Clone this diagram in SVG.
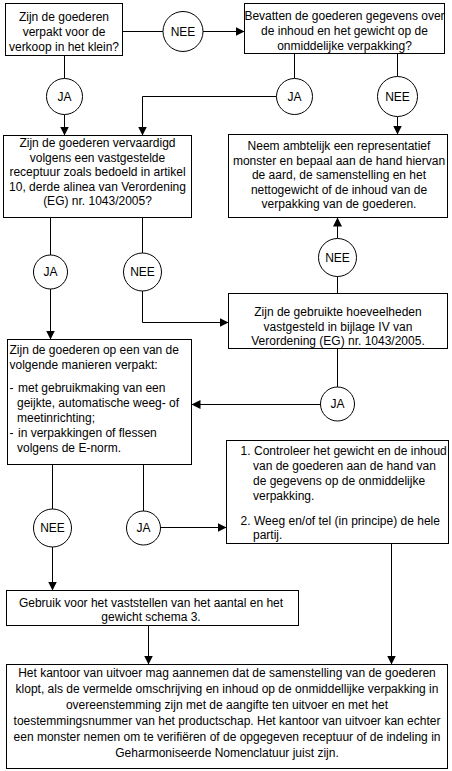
<svg xmlns="http://www.w3.org/2000/svg" width="452" height="771" viewBox="0 0 452 771">
<defs>
<style>
.box{fill:#fff;stroke:#000;stroke-width:1}
.c{fill:#fff;stroke:#000;stroke-width:1}
.t{font-family:"Liberation Sans",Arial,sans-serif;font-size:12px;fill:#000}
.m{text-anchor:middle}
.ln{fill:none;stroke:#000;stroke-width:1}
.ar{marker-end:url(#ah)}
</style>
<marker id="ah" viewBox="0 0 10 10" refX="10" refY="5" markerWidth="9" markerHeight="9" markerUnits="userSpaceOnUse" orient="auto">
<path d="M0,0 L10,5 L0,10 z" fill="#000"/>
</marker>
</defs>
<rect width="452" height="771" fill="#fff"/>
<g id="connectors">
<path class="ln" d="M122.5,31.5 H163"/>
<path class="ln ar" d="M203,31.5 H244.5"/>
<path class="ln" d="M64.5,55.5 V78.5"/>
<path class="ln ar" d="M64.5,114.5 V135.5"/>
<path class="ln" d="M294.5,53.5 V78.5"/>
<path class="ln ar" d="M276.5,96.5 H142.5 V135.5"/>
<path class="ln" d="M397.5,53.5 V76.5"/>
<path class="ln ar" d="M397.5,116.5 V134.5"/>
<path class="ln" d="M50.5,217.5 V255"/>
<path class="ln ar" d="M50.5,289 V339.5"/>
<path class="ln" d="M142.5,217.5 V253"/>
<path class="ln ar" d="M142.5,291 V322.5 H228.5"/>
<path class="ln" d="M337.5,293.5 V276.5"/>
<path class="ln ar" d="M337.5,238.5 V217.5"/>
<path class="ln" d="M337.5,348.5 V387"/>
<path class="ln ar" d="M320.5,404.5 H191.5"/>
<path class="ln" d="M52.5,464.5 V509"/>
<path class="ln ar" d="M52.5,547 V590.5"/>
<path class="ln" d="M143.5,464.5 V511"/>
<path class="ln ar" d="M160.5,527.5 H226.5"/>
<path class="ln ar" d="M148.5,625.5 V664.5"/>
<path class="ln ar" d="M391.5,543.5 V664.5"/>
</g>
<g id="box1">
<rect class="box" x="5.5" y="3.5" width="117" height="52"/>
<text class="t m" x="64" y="21">Zijn de goederen</text>
<text class="t m" x="64" y="36">verpakt voor de</text>
<text class="t m" x="64" y="51">verkoop in het klein?</text>
</g>
<g id="nee1">
<circle class="c" cx="183" cy="31.5" r="20"/>
<text class="t m" x="183" y="35.5">NEE</text>
</g>
<g id="box2">
<rect class="box" x="244.5" y="3.5" width="200" height="50"/>
<text class="t m" x="344.5" y="20">Bevatten de goederen gegevens over</text>
<text class="t m" x="344.5" y="35">de inhoud en het gewicht op de</text>
<text class="t m" x="344.5" y="49.5">onmiddelijke verpakking?</text>
</g>
<g id="ja1">
<circle class="c" cx="64.5" cy="96.5" r="18"/>
<text class="t m" x="64.5" y="100.5">JA</text>
</g>
<g id="ja2">
<circle class="c" cx="294.5" cy="96.5" r="18"/>
<text class="t m" x="294.5" y="100.5">JA</text>
</g>
<g id="nee2">
<circle class="c" cx="397.5" cy="96.5" r="20"/>
<text class="t m" x="397.5" y="100.5">NEE</text>
</g>
<g id="box3">
<rect class="box" x="3.5" y="135.5" width="188" height="82"/>
<text class="t m" x="97.5" y="147">Zijn de goederen vervaardigd</text>
<text class="t m" x="97.5" y="161.5">volgens een vastgestelde</text>
<text class="t m" x="97.5" y="176">receptuur zoals bedoeld in artikel</text>
<text class="t m" x="97.5" y="190.5">10, derde alinea van Verordening</text>
<text class="t m" x="97.5" y="205">(EG) nr. 1043/2005?</text>
</g>
<g id="box4">
<rect class="box" x="228.5" y="134.5" width="219" height="83"/>
<text class="t m" x="339" y="150">Neem ambtelijk een representatief</text>
<text class="t m" x="339" y="165">monster en bepaal aan de hand hiervan</text>
<text class="t m" x="339" y="179">de aard, de samenstelling en het</text>
<text class="t m" x="339" y="194">nettogewicht of de inhoud van de</text>
<text class="t m" x="339" y="208">verpakking van de goederen.</text>
</g>
<g id="ja3">
<circle class="c" cx="50.5" cy="272" r="17"/>
<text class="t m" x="50.5" y="276">JA</text>
</g>
<g id="nee4">
<circle class="c" cx="142.5" cy="272" r="19"/>
<text class="t m" x="142.5" y="276">NEE</text>
</g>
<g id="nee3">
<circle class="c" cx="337.5" cy="257.5" r="19"/>
<text class="t m" x="337.5" y="261.5">NEE</text>
</g>
<g id="box5">
<rect class="box" x="228.5" y="293.5" width="219" height="55"/>
<text class="t m" x="338" y="316">Zijn de gebruikte hoeveelheden</text>
<text class="t m" x="338" y="331">vastgesteld in bijlage IV van</text>
<text class="t m" x="338" y="345">Verordening (EG) nr. 1043/2005.</text>
</g>
<g id="box6">
<rect class="box" x="7.5" y="339.5" width="184" height="125"/>
<text class="t" x="9.5" y="354">Zijn de goederen op een van de</text>
<text class="t" x="9.5" y="369">volgende manieren verpakt:</text>
<text class="t" y="392"><tspan x="9.5">-</tspan><tspan x="18">met gebruikmaking van een</tspan></text>
<text class="t" x="17" y="407">geijkte, automatische weeg- of</text>
<text class="t" x="17" y="422">meetinrichting;</text>
<text class="t" y="437"><tspan x="9.5">-</tspan><tspan x="18">in verpakkingen of flessen</tspan></text>
<text class="t" x="17" y="452">volgens de E-norm.</text>
</g>
<g id="ja4">
<circle class="c" cx="337.5" cy="404" r="17"/>
<text class="t m" x="337.5" y="408">JA</text>
</g>
<g id="box7">
<rect class="box" x="226.5" y="440.5" width="222" height="103"/>
<text class="t" y="455"><tspan x="240.5">1.</tspan><tspan x="254">Controleer het gewicht en de inhoud</tspan></text>
<text class="t" x="253" y="470">van de goederen aan de hand van</text>
<text class="t" x="253" y="485">de gegevens op de onmiddelijke</text>
<text class="t" x="253" y="500">verpakking.</text>
<text class="t" y="525"><tspan x="240.5">2.</tspan><tspan x="254">Weeg en/of tel (in principe) de hele</tspan></text>
<text class="t" x="253" y="539">partij.</text>
</g>
<g id="nee5">
<circle class="c" cx="52.5" cy="528" r="19"/>
<text class="t m" x="52.5" y="532">NEE</text>
</g>
<g id="ja5">
<circle class="c" cx="143.5" cy="528" r="17"/>
<text class="t m" x="143.5" y="532">JA</text>
</g>
<g id="box8">
<rect class="box" x="6.5" y="590.5" width="292" height="35"/>
<text class="t m" x="151" y="607">Gebruik voor het vaststellen van het aantal en het</text>
<text class="t m" x="151" y="621">gewicht schema 3.</text>
</g>
<g id="box9">
<rect class="box" x="6.5" y="664.5" width="441" height="104"/>
<text class="t m" x="227" y="677">Het kantoor van uitvoer mag aannemen dat de samenstelling van de goederen</text>
<text class="t m" x="227" y="693">klopt, als de vermelde omschrijving en inhoud op de onmiddellijke verpakking in</text>
<text class="t m" x="227" y="709">overeenstemming zijn met de aangifte ten uitvoer en met het</text>
<text class="t m" x="227" y="725">toestemmingsnummer van het productschap. Het kantoor van uitvoer kan echter</text>
<text class="t m" x="227" y="741">een monster nemen om te verifiëren of de opgegeven receptuur of de indeling in</text>
<text class="t m" x="227" y="757">Geharmoniseerde Nomenclatuur juist zijn.</text>
</g>
</svg>
